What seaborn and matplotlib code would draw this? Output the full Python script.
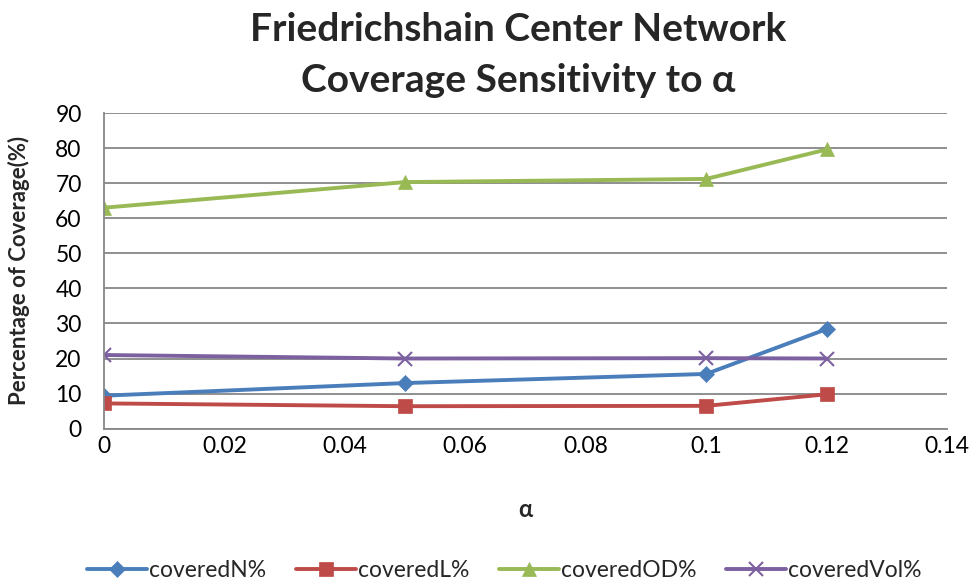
import numpy as np
import pandas as pd
import matplotlib
matplotlib.use("Agg")
import matplotlib.pyplot as plt
import seaborn as sns

# data
alpha = [0, 0.05, 0.1, 0.12]
covered_n = [9.4, 13.0, 15.6, 28.4]
covered_l = [7.2, 6.4, 6.5, 9.8]
covered_od = [63.0, 70.3, 71.2, 79.6]
covered_vol = [21.0, 20.0, 20.1, 20.0]

series_names = ["coveredN%", "coveredL%", "coveredOD%", "coveredVol%"]
colors = ["#4A7EBB", "#BE4B48", "#98B954", "#7D60A0"]
markers = ["D", "s", "^", "x"]
msizes = [8, 10, 10, 10]

sns.set_style("white")
plt.rcParams['font.family'] = ['Lato', 'DejaVu Sans']

fig = plt.figure(figsize=(9.77, 5.84), dpi=100)
ax = fig.add_axes([0.1064, 0.266, 0.863, 0.5405])

values = [covered_n, covered_l, covered_od, covered_vol]
for name, vals, c, m, ms in zip(series_names, values, colors, markers, msizes):
    df = pd.DataFrame({"alpha": alpha, "pct": vals})
    sns.lineplot(data=df, x="alpha", y="pct", ax=ax, color=c, linewidth=2.8,
                 marker=m, markersize=ms, markeredgecolor=c,
                 markeredgewidth=1.5 if m == "x" else 0.5, label=name)

ax.set_xlim(0, 0.14)
ax.set_ylim(0, 90)
ax.set_xticks(np.arange(0, 0.141, 0.02))
ax.set_xticklabels(["0", "0.02", "0.04", "0.06", "0.08", "0.1", "0.12", "0.14"])
ax.set_yticks(np.arange(0, 91, 10))
ax.tick_params(axis="both", labelsize=16.5, colors="black", length=0)
ax.tick_params(axis="x", pad=5)
ax.tick_params(axis="y", pad=16)
ax.grid(axis="y", color="#878787", linewidth=1.3)
ax.grid(axis="x", visible=False)
for s in ["top", "right"]:
    ax.spines[s].set_visible(False)
for s in ["left", "bottom"]:
    ax.spines[s].set_color("#878787")
    ax.spines[s].set_linewidth(1.3)

ax.set_xlabel("α", fontsize=17, fontweight="bold", labelpad=30)
ax.set_ylabel("Percentage of Coverage(%)", fontsize=16, fontweight="bold", labelpad=8)
ax.yaxis.set_label_coords(-0.088, 0.5)
fig.suptitle("Friedrichshain Center Network\nCoverage Sensitivity to α",
             fontsize=28, fontweight="bold", x=0.53, y=0.98, linespacing=1.55)

ax.legend(loc="center", bbox_to_anchor=(0.475, -0.45), ncol=4, frameon=False,
          fontsize=16.5, handlelength=2.6, columnspacing=1.3, handletextpad=0.1)

fig.savefig("out.png", dpi=100)
